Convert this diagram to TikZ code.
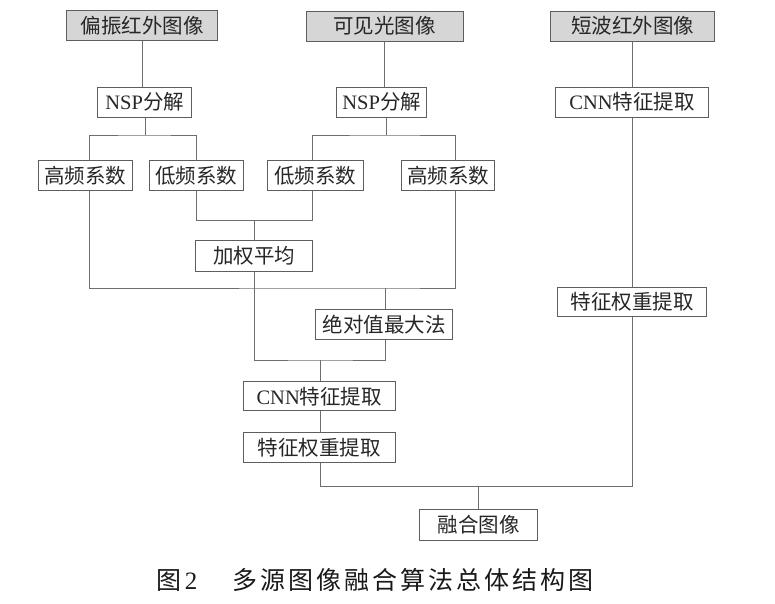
\documentclass[tikz,border=0pt]{standalone}
\usepackage{fontspec}
\setmainfont{Liberation Serif}
\newfontfamily\cjk{Noto Sans CJK SC}
\newfontfamily\capcjk[LetterSpace=12]{Noto Sans CJK SC}
\definecolor{boxgray}{HTML}{5E5E5E}
\definecolor{linegray}{HTML}{6E6E6E}
\definecolor{srcgray}{HTML}{D6D6D6}
\begin{document}
\begin{tikzpicture}[x=1pt,y=-1pt,
  box/.style={draw=boxgray,line width=1pt,inner sep=0pt,minimum height=30pt,text=black!85,font=\fontsize{20.5}{24}\selectfont\cjk},
  src/.style={box,fill=srcgray},
  link/.style={draw=linegray,line width=1pt}]
\useasboundingbox (0,0) rectangle (775,603);
\node [src,minimum width=151pt] (pol) at (142.3,25.8) {偏振红外图像};
\node [src,minimum width=157pt] (vis) at (384.5,26) {可见光图像};
\node [src,minimum width=164pt] (swir) at (632.8,26) {短波红外图像};
\node [box,minimum width=94pt] (nspA) at (144.7,102) {\rmfamily NSP\cjk 分解};
\node [box,minimum width=90pt] (nspB) at (381.7,102) {\rmfamily NSP\cjk 分解};
\node [box,minimum width=152.6pt] (cnnB) at (632,102) {\rmfamily CNN\cjk 特征提取};
\node [box,minimum width=94pt] (hiA) at (85.3,175.3) {高频系数};
\node [box,minimum width=94pt] (loA) at (196,175.3) {低频系数};
\node [box,minimum width=96pt] (loB) at (315,175.3) {低频系数};
\node [box,minimum width=93pt] (hiB) at (448.3,175.3) {高频系数};
\node [box,minimum width=117pt,minimum height=31pt] (avg) at (254.2,255.5) {加权平均};
\node [box,minimum width=136.6pt] (absmax) at (384,324.2) {绝对值最大法};
\node [box,minimum width=149.4pt,minimum height=29pt] (wB) at (632,301.7) {特征权重提取};
\node [box,minimum width=152.3pt,minimum height=29pt] (cnnA) at (319.2,396.2) {\rmfamily CNN\cjk 特征提取};
\node [box,minimum width=152.3pt] (wA) at (319.2,447.3) {特征权重提取};
\node [box,minimum width=118.4pt,minimum height=31pt] (fuse) at (478.5,524.7) {融合图像};
\node [anchor=west,inner sep=0pt,text=black!90,font=\fontsize{25}{30}\selectfont] (cap) at (156.7,579.5)
  {{\capcjk 图}\hspace{3pt}2\hspace{35pt}{\capcjk 多源图像融合算法总体结构图}};
\coordinate (jA) at (145.7,135);
\coordinate (jB) at (386,135);
\coordinate (jL) at (254.2,220.7);
\coordinate (jH) at (385.7,288);
\coordinate (jM) at (320.7,360);
\coordinate (jF) at (478.5,486);
\draw [link] (pol.south) -- (pol.south |- nspA.north);
\draw [link] (vis.south) -- (vis.south |- nspB.north);
\draw [link] (jA |- nspA.south) -- (jA);
\draw [link] (jB |- nspB.south) -- (jB);
\draw [link] ([xshift=3.7pt]hiA.north) |- (jA) -| (loA.north);
\draw [link] ([xshift=-2.3pt]loB.north) |- (jB) -| ([xshift=6.7pt]hiB.north);
\draw [link] (loA.south) |- (jL) -| ([xshift=-2.3pt]loB.south);
\draw [link] (jL) -- (avg.north);
\draw [link] ([xshift=3.7pt]hiA.south) |- (jH) -| ([xshift=6.7pt]hiB.south);
\draw [link] (jH) -- (jH |- absmax.north);
\draw [link] (avg.south) |- (jM) -| (jH |- absmax.south);
\draw [link] (jM) -- (jM |- cnnA.north);
\draw [link] (jM |- cnnA.south) -- (jM |- wA.north);
\draw [link] (swir.south) -- (swir.south |- cnnB.north);
\draw [link] (cnnB.south) -- (wB.north);
\draw [link] (jM |- wA.south) |- (jF) -| (wB.south);
\draw [link] (jF) -- (fuse.north);
\end{tikzpicture}
\end{document}
